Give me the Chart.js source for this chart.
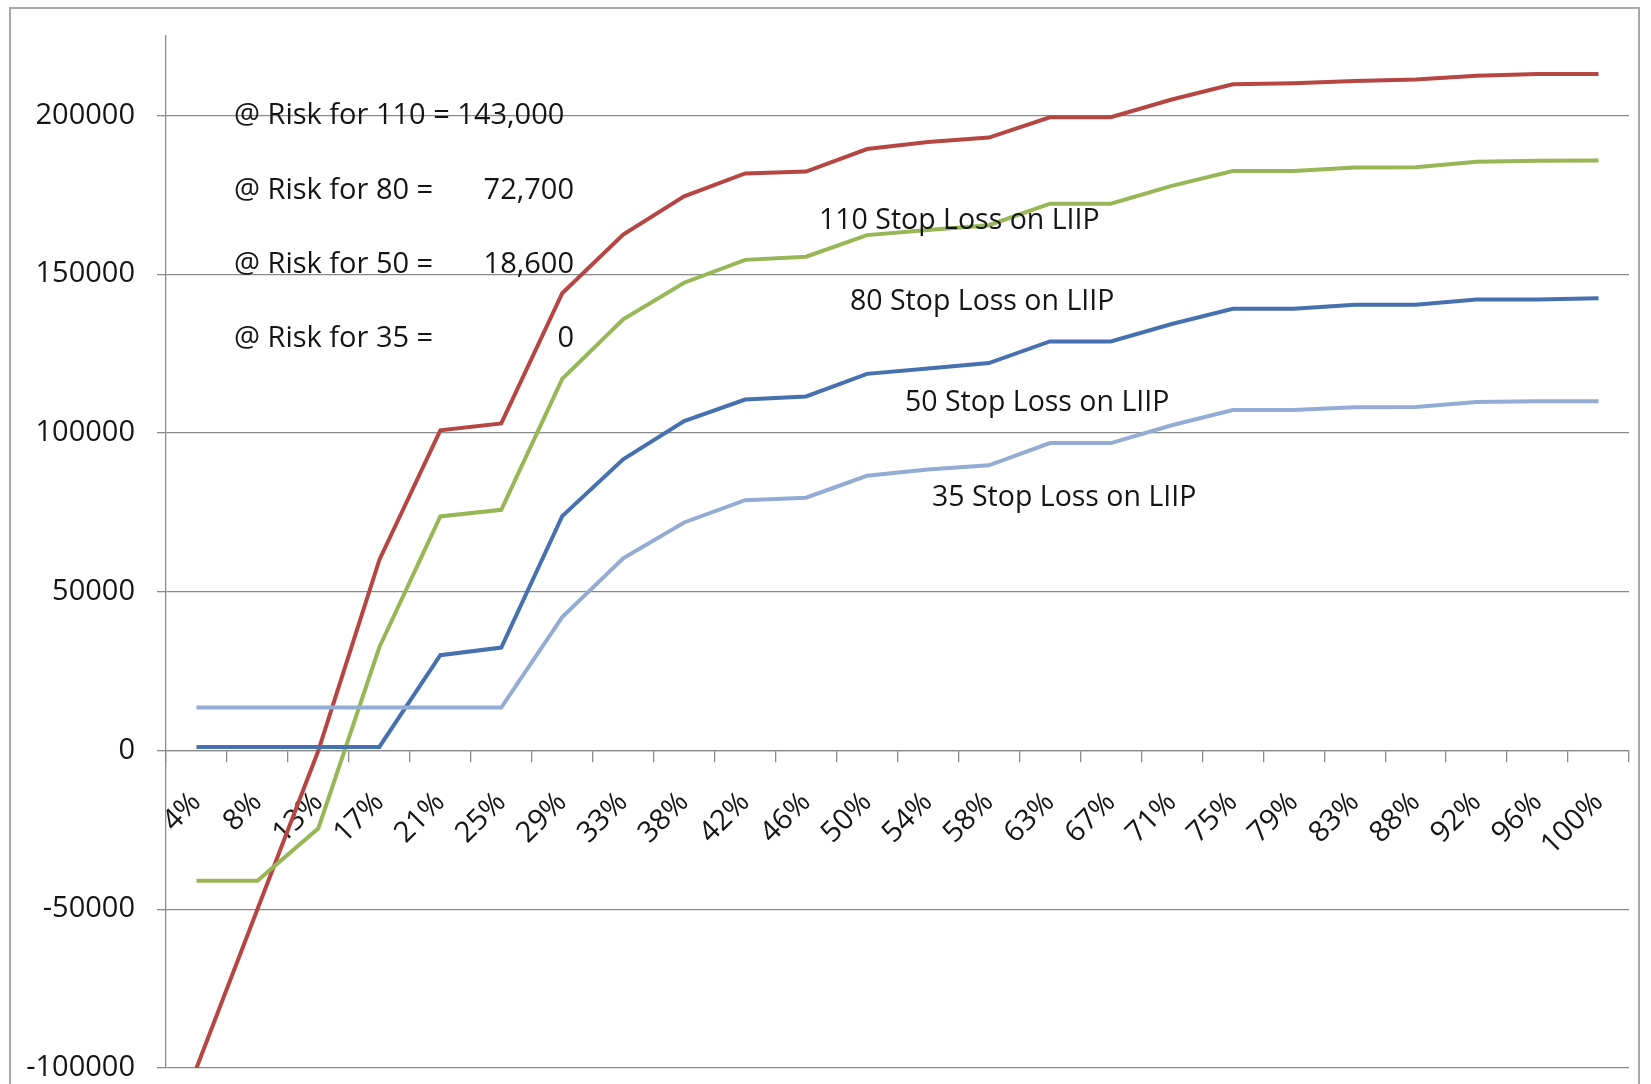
<!DOCTYPE html>
<html>
<head>
<meta charset="utf-8">
<script src="https://cdn.jsdelivr.net/npm/chart.js@4.4.1/dist/chart.umd.min.js"></script>
<style>
  html, body { margin: 0; padding: 0; background: #fff; }
  #wrap { width: 1651px; height: 1084px; position: relative; overflow: hidden; }
</style>
</head>
<body>
<div id="wrap"><canvas id="chart" width="1651" height="1084"></canvas></div>
<script>
// ── data ────────────────────────────────────────
const categories = ['4%', '8%', '13%', '17%', '21%', '25%', '29%', '33%', '38%', '42%', '46%', '50%',
                    '54%', '58%', '63%', '67%', '71%', '75%', '79%', '83%', '88%', '92%', '96%', '100%'];

const stopLoss110 = [-100000, -50000, 0, 60000, 100800, 103000, 144000, 162500, 174500, 181700, 182300, 189400,
                     191600, 193000, 199400, 199400, 205000, 209800, 210100, 210800, 211300, 212500, 213000, 213000];
const stopLoss80  = [-41000, -41000, -24500, 32500, 73700, 75800, 117000, 135800, 147300, 154500, 155500, 162300,
                     163900, 165400, 172200, 172200, 177800, 182500, 182500, 183600, 183700, 185400, 185700, 185800];
const stopLoss50  = [1100, 1100, 1100, 1100, 30000, 32400, 73800, 91700, 103700, 110500, 111500, 118600,
                     120300, 122000, 128800, 128800, 134300, 139100, 139100, 140400, 140400, 142000, 142000, 142400];
const stopLoss35  = [13500, 13500, 13500, 13500, 13500, 13500, 42000, 60500, 71800, 78800, 79600, 86500,
                     88500, 89800, 96800, 96800, 102400, 107200, 107200, 108100, 108200, 109700, 110000, 110000];

const yTicks = [-100000, -50000, 0, 50000, 100000, 150000, 200000];

const riskLabels = ['@ Risk for 110 =', '@ Risk for 80 =', '@ Risk for 50 =', '@ Risk for 35 ='];
const riskValues = ['143,000', '72,700', '18,600', '0'];
const seriesNames = ['110 Stop Loss on LIIP', '80 Stop Loss on LIIP', '50 Stop Loss on LIIP', '35 Stop Loss on LIIP'];

// ── look ────────────────────────────────────────
const FONT = '"Open Sans", "DejaVu Sans", sans-serif';
const GRID = '#8a8a8a';
const TEXT = '#151515';
const riskRows = { left: 234, valueRight: 574, ys: [116, 191, 265, 339], size: 29 };
const nameSpots = [[819, 221], [850, 302], [905, 403], [932, 498]];

// outer frame + free text, drawn on the canvas
const annotations = {
  id: 'annotations',
  beforeDraw(chart) {
    const ctx = chart.ctx;
    ctx.save();
    ctx.fillStyle = '#fff';
    ctx.fillRect(0, 0, chart.width, chart.height);
    ctx.strokeStyle = '#a8a8a8';
    ctx.lineWidth = 2;
    ctx.strokeRect(10, 8, 1629, 1200);
    ctx.restore();
  },
  afterDraw(chart) {
    const ctx = chart.ctx;
    ctx.save();
    ctx.fillStyle = TEXT;
    ctx.textBaseline = 'middle';
    ctx.font = `${riskRows.size}px ${FONT}`;
    riskLabels.forEach((t, i) => {
      ctx.textAlign = 'left';
      if (i === 0) {
        // first row is one run of text in the original
        ctx.fillText(t + ' ' + riskValues[i], riskRows.left, riskRows.ys[i]);
        return;
      }
      ctx.fillText(t, riskRows.left, riskRows.ys[i]);
      ctx.textAlign = 'right';
      ctx.fillText(riskValues[i], riskRows.valueRight, riskRows.ys[i]);
    });
    ctx.font = `28.5px ${FONT}`;
    ctx.textAlign = 'left';
    seriesNames.forEach((t, i) => ctx.fillText(t, nameSpots[i][0], nameSpots[i][1]));
    ctx.restore();
  }
};

function line(data, color) {
  return { data, borderColor: color, backgroundColor: color, borderWidth: 4,
           pointRadius: 0, tension: 0, fill: false };
}

new Chart(document.getElementById('chart'), {
  type: 'line',
  data: {
    labels: categories,
    datasets: [
      line(stopLoss35, '#93acd4'),
      line(stopLoss50, '#4671ae'),
      line(stopLoss80, '#97b655'),
      line(stopLoss110, '#b64644')
    ]
  },
  options: {
    responsive: false,
    animation: false,
    devicePixelRatio: 1,
    layout: { padding: { left: 0, top: 36, right: 22, bottom: 16 } },
    plugins: { legend: { display: false }, tooltip: { enabled: false } },
    scales: {
      x: {
        type: 'category',
        position: { y: 0 },
        offset: true,
        afterFit(s) { s.paddingLeft = 0; s.paddingRight = 0; },
        grid: { offset: true, drawOnChartArea: false, drawTicks: true, tickLength: 11, color: GRID, lineWidth: 1.3 },
        border: { display: true, color: GRID, width: 1.3 },
        ticks: { autoSkip: false, maxRotation: 45, minRotation: 45, color: TEXT, padding: 24,
                 font: { family: FONT, size: 29 } }
      },
      y: {
        min: -100000,
        max: 225000,
        afterBuildTicks(s) { s.ticks = yTicks.map(v => ({ value: v })); },
        afterFit(s) { s.width = 166; s.paddingTop = 0; s.paddingBottom = 0; },
        grid: { color: GRID, lineWidth: 1.3, tickLength: 9, drawTicks: true },
        border: { display: true, color: GRID, width: 1.3 },
        ticks: { color: TEXT, padding: 22, font: { family: FONT, size: 29 },
                 callback: v => String(v) }
      }
    }
  },
  plugins: [annotations]
});
</script>
</body>
</html>
